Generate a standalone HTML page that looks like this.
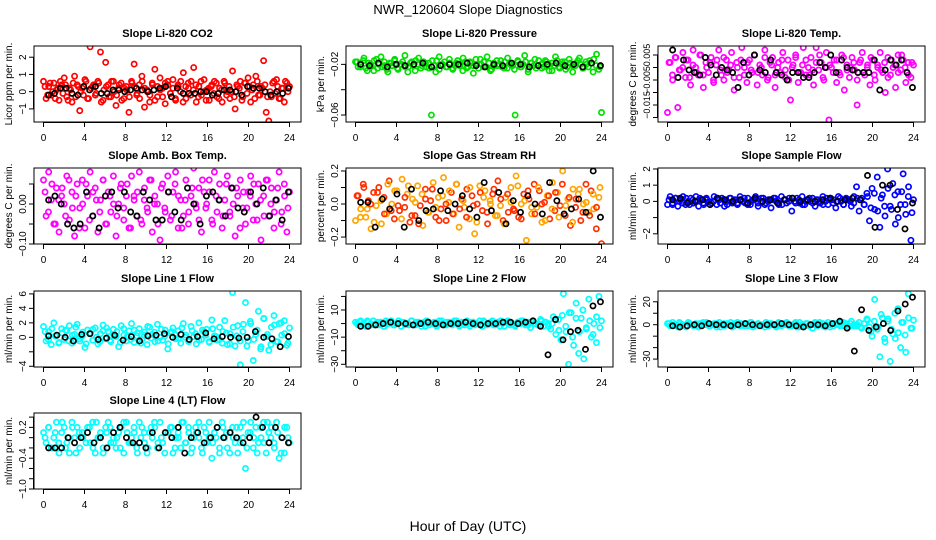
<!DOCTYPE html>
<html><head><meta charset="utf-8"><style>
html,body{margin:0;padding:0;background:#fff}
svg{display:block;font-family:"Liberation Sans",sans-serif}
</style></head><body>
<svg id="chart" width="936" height="540" viewBox="0 0 936 540">
<text x="468" y="14" text-anchor="middle" font-size="13">NWR_120604  Slope Diagnostics</text>
<text x="468" y="531" text-anchor="middle" font-size="14">Hour of Day (UTC)</text>
</svg>
<script>
const xTicks = [0,4,8,12,16,20,24];
const titles = ["Slope Li-820 CO2","Slope Li-820 Pressure","Slope Li-820 Temp.","Slope Amb. Box Temp.","Slope Gas Stream RH","Slope Sample Flow","Slope Line 1 Flow","Slope Line 2 Flow","Slope Line 3 Flow","Slope Line 4 (LT) Flow"];
const yTitles = ["Licor ppm per min.","kPa per min.","degrees C per min.","degrees C per min.","percent per min.","ml/min per min.","ml/min per min.","ml/min per min.","ml/min per min.","ml/min per min."];
const co2 = [0.6,-0.4,0.3,-0.2,0.5,0.1,-0.5,0.4,0.8,-0.3,0.2,-0.6,0.9,0.4,-1.1,0.2,0.7,-0.4,2.6,0.3,-0.2,0.6,2.3,-0.5,1.7,0.4,-0.3,0.6,-0.8,0.2,0.5,-0.4,0.3,-1.2,0.6,1.6,-0.2,0.4,0.9,-0.9,0.1,-0.6,0.5,1.3,-0.3,0.8,0.2,-0.7,0.4,-0.1,0.7,-0.5,0.3,0.6,1.1,-0.4,0.2,0.6,1.4,-0.6,0.3,-0.2,0.7,0.1,-0.5,0.4,0.6,-0.3,0.2,-0.6,0.5,0.0,-0.4,1.2,-1.0,0.3,0.6,-0.3,0.5,0.8,-0.6,0.4,0.9,-0.2,0.3,1.8,-1.2,-1.7,-0.3,0.6,0.7,-0.4,0.2,-0.6,0.5,0.3];
const co2b = [0.3,-0.2,0.5,0.0,-0.4,0.2,0.6,-0.1,0.4,-0.5,0.1,0.5,-0.3,0.3,0.0,-0.2,0.6,-0.4,0.2,0.4,-0.1,0.5,-0.6,0.1,0.3,-0.3,0.6,0.0,-0.2,0.4,-0.5,0.2,0.1,-0.3,0.5,0.3,-0.1,-0.4,0.6,0.2,0.0,-0.2,0.4,-0.5,0.3,0.1,-0.3,0.5,0.6,-0.1,0.2,-0.4,0.4,0.0,-0.6,0.3,0.5,-0.2,0.1,0.4,-0.3,0.6,0.0,-0.5,0.2,0.3,-0.1,0.5,-0.4,0.1,0.6,-0.2,0.3,0.0,-0.3,0.4,0.2,-0.5,0.5,-0.1,0.3,0.1,-0.4,0.6,-0.2,0.2,0.4,-0.3,0.0,0.5,-0.1,0.3,-0.4,0.2,0.6,0.0];
const co2Avg = [-0.2,-0.1,0.2,0.2,-0.1,-0.2,0.3,0.1,0.3,-0.1,-0.1,0.1,0.1,0.0,0.1,0.2,0.1,0.0,0.1,0.2,0.3,-0.3,0.2,-0.1,-0.1,-0.1,0.0,0.0,-0.2,-0.1,0.1,0.1,0.0,-0.2,0.3,0.2,0.2,0.0,-0.2,0.0,-0.1,0.2];
const pres = [-18,-22,-20,-17,-23,-19,-21,-25,-16,-20,-22,-18,-24,-19,-21,-17,-23,-20,-18,-22,-26,-19,-21,-17,-20,-23,-18,-22,-19,-60,-21,-17,-24,-20,-18,-22,-19,-23,-21,-17,-20,-25,-18,-22,-19,-21,-16,-23,-20,-18,-22,-19,-24,-21,-17,-20,-22,-18,-23,-19,-21,-60,-17,-22,-20,-18,-24,-19,-21,-23,-17,-20,-22,-18,-25,-19,-21,-17,-23,-20,-18,-22,-19,-26,-21,-17,-20,-23,-18,-22,-19,-16,-21,-24,-58];
const presb = [-18,-22,-15,-25,-20,-17,-23,-14,-21,-26,-19,-16,-24,-20,-13,-22,-18,-25,-15,-21,-19,-23,-17,-26,-14,-20,-22,-16,-24,-19,-21,-15,-23,-18,-27,-20,-16,-22,-14,-25,-19,-21,-17,-23,-15,-20,-24,-18,-22,-13,-26,-19,-16,-21,-23,-17,-20,-25,-14,-22,-18,-24,-16,-21,-19,-15,-23,-20,-17,-26,-12,-22];
const presAvg = [-20,-21,-19,-22,-20,-21,-20,-19,-22,-21,-20,-20,-19,-21,-22,-20,-21,-19,-20,-22,-21,-20,-19,-21,-20,-22,-19,-21];
const ltemp = [-18,2,-5,4,-16,-1,6,-4,3,-7,7,0,-3,5,-8,2,-2,4,-6,1,7,-3,-5,3,-1,6,-9,2,-4,8,0,-6,3,-2,5,-7,1,-3,7,-5,2,4,-8,0,-2,6,-4,3,-13,1,5,-6,-2,8,-3,0,4,-7,8,-1,2,-5,6,-21,0,3,-6,-2,5,-9,1,-4,4,-1,-15,2,6,-3,0,-7,3,-5,1,6,-2,-10,4,-3,0,-8,5,-1,3,-6,2,-4,1];
const ltempb = [2,-3,4,-1,0,3,-4,1,-2,5,-3,0,2,-5,3,-1,4,-2,1,-4,0,3,-3,2,-1,5,-2,0,4,-4,1,-3,2,3,-1,-5,0,4,-2,1,3,-3,-1,2,5,-4,0,1,-2,3,-3,4,-1,0,2,-5,3,-2,1,4,-3,0,-1,2,-4,3,1,-2,5,0,-3,2];
const ltempAvg = [7,-4,3,-1,-2,-3,4,1,-3,0,-1,-2,-8,2,-3,5,-1,-2,3,-2,-3,-5,-2,-2,-4,-4,-2,2,0,5,-2,3,0,-1,-2,-2,-2,3,-9,-1,3,1,3,-2,-8];
const amb = [6,-3,8,1,-5,4,-7,2,0,7,-4,3,-8,5,-1,6,-6,2,8,-3,4,-7,1,6,-5,3,-2,7,-8,0,5,-4,2,-6,7,1,-3,8,-5,4,-1,6,-7,2,0,-9,5,-2,7,-4,3,8,-6,1,-3,6,-5,2,9,-1,4,-7,3,0,6,-4,8,-2,5,-6,1,7,-3,4,-8,2,6,-1,-5,3,7,-4,0,5,-9,2,6,-3,4,-6,1,8,-2,5,-7,3];
const ambb = [3,-2,5,-5,1,4,-3,6,-1,2,-6,0,5,-4,3,1,-2,6,-5,2,0,-3,4,-1,5,-6,2,3,-4,1,-2,6,0,-5,4,-1,3,-3,5,2,-6,1,-2,4,0,-4,6,-1,3,-5,2,1,-3,5,-2,0,4,-6,3,-1,2,5,-4,1,-3,6,0,-2,4,-5,2,-1];
const ambAvg = [1,2,0,-5,-6,-5,3,-3,-6,2,3,-1,3,-2,-3,3,1,-4,-4,3,-2,-4,4,0,-5,2,3,1,-3,4,-1,-2,3,0,4,-3,1,-4,3];
const rh = [-10,5,-3,12,-8,2,-15,7,-1,10,-12,4,-6,14,0,-9,8,-4,15,-2,6,-11,3,-7,11,-1,-13,9,-5,2,13,-8,4,-3,16,-10,1,7,-6,12,-14,3,-2,9,-9,5,-18,0,11,-4,8,-12,2,6,-7,14,-1,-10,4,-5,10,-3,17,-8,0,6,-22,3,-6,12,-2,8,-11,1,5,-9,13,-4,7,-1,20,-7,3,-13,9,-2,6,-10,0,12,-5,8,-3,-15,4,-24];
const rhb = [5,-8,10,-3,0,-11,7,2,-6,12,-4,8,-1,-9,4,11,-7,1,-12,6,3,-5,9,-2,-10,5,0,8,-6,12,-3,2,-8,10,-1,-11,7,4,-5,0,9,-7,3,-12,6,1,-4,11,-9,2,8,-2,-6,10,0,-10,5,-3,7,-8,12,-1,4,-11,3,9,-5,1,-7,6,-2,10];
const rhAvg = [1,1,-14,3,-3,6,-14,9,-10,-4,-3,8,-4,0,5,-3,-8,13,-4,7,-12,2,-5,5,0,-6,13,2,-6,-3,3,-5,20,-8];
const sflow = [-0.2,0.3,-0.1,0.2,-0.3,0.1,0.3,-0.2,0.0,0.2,-0.1,0.3,-0.3,0.1,-0.2,0.2,0.0,-0.1,0.3,-0.2,0.1,0.2,-0.3,0.0,0.2,-0.1,0.1,-0.2,0.3,0.0,-0.1,0.2,-0.2,0.1,0.3,-0.3,0.0,0.2,-0.1,0.1,-0.4,0.2,0.0,-0.2,0.3,0.1,-0.1,0.2,-0.6,0.0,0.2,-0.1,0.3,-0.2,0.1,0.0,0.2,-0.3,0.1,-0.1,0.3,0.0,-0.2,0.2,0.1,-0.4,0.3,0.0,-0.2,0.2,0.1,-0.3,0.3,0.9,-0.6,0.2,-0.2,0.5,-1.2,0.8,-0.5,1.5,-1.6,0.4,-0.9,2.0,-0.3,1.1,-1.4,0.6,-0.2,1.7,-0.8,0.3,-2.4,0.1];
const sflowb = [0.1,-0.2,0.2,0.0,-0.1,0.2,-0.2,0.1,0.0,0.2,-0.1,0.1,-0.2,0.0,0.2,-0.1,0.1,-0.2,0.2,0.0,-0.1,0.1,0.2,-0.2,0.0,0.1,-0.1,0.2,-0.2,0.0,0.1,0.2,-0.1,-0.2,0.1,0.0,0.2,-0.1,0.1,-0.2,0.0,0.2,-0.1,0.1,0.0,-0.2,0.2,0.1,-0.1,0.0,0.2,-0.2,0.1,0.0,-0.1,0.2,0.1,-0.2,0.3,-0.4,0.5,-0.6,0.2,-0.3,0.8,-0.5,0.4,-1.0,0.6,-0.2,0.9,-0.7];
const sflowAvg = [0.1,0.2,-0.1,0.0,0.1,-0.2,0.2,0.1,0.0,0.1,-0.1,0.2,0.0,0.1,-0.1,0.1,0.2,0.0,0.1,0.0,0.1,0.2,0.0,0.1,0.2,0.1,1.6,-1.6,1.0,1.0,-0.5,-1.7,-0.1];
const l1 = [1.5,-0.5,0.8,-1.0,2.0,0.3,-0.7,1.2,-0.3,0.9,1.6,-0.8,0.4,1.8,-0.5,0.2,-1.4,1.0,0.6,-0.4,1.3,-0.9,0.5,1.7,-0.2,0.8,-0.6,1.1,0.1,-1.3,1.6,0.3,-0.5,0.9,1.9,-0.7,0.2,1.2,-0.3,0.7,-1.0,1.4,0.4,-0.6,1.8,0.0,-0.4,1.0,-1.6,0.6,1.3,-0.2,0.9,-0.8,1.9,0.3,-0.5,1.5,0.1,-0.9,2.0,-0.3,0.8,1.1,-0.6,2.4,0.2,-0.4,1.4,-0.8,2.3,-1.0,0.5,6.2,-1.2,1.6,-3.8,0.8,4.8,-0.5,1.9,-3.2,0.4,3.6,-1.3,2.6,0.1,-1.8,1.4,3.0,-0.6,1.9,0.3,2.3,-1.1,1.3];
const l1b = [0.8,-0.3,1.2,0.2,-0.8,0.6,1.0,-0.5,0.3,1.4,-0.2,0.7,-0.9,0.5,1.1,0.0,-0.6,0.9,1.3,-0.4,0.4,0.8,-0.7,1.2,0.1,-0.3,1.0,0.6,-0.8,0.3,1.5,-0.1,0.7,-0.5,1.1,0.2,-0.9,0.8,0.4,-0.2,1.3,0.0,-0.6,0.9,0.5,-0.4,1.0,0.3,-0.7,1.2,0.1,-0.3,0.8,0.6,-0.9,1.4,0.2,-0.5,1.8,-1.2,2.2,-0.3,1.0,-1.6,2.6,0.4,-1.0,1.7,-0.6,2.0,0.5,-0.8];
const l1Avg = [0.2,0.3,0.0,-0.5,0.4,0.5,-0.3,-0.1,0.3,-0.4,0.1,-0.5,0.2,0.3,0.5,0.0,0.4,-0.3,0.1,0.6,-0.2,0.1,0.0,-0.1,0.0,0.8,0.0,-0.2,-1.3,0.1];
const l2 = [1,-1,2,0,-2,1,-1,2,0,-1,1,-2,2,0,1,-1,0,2,-2,1,0,-1,2,-1,1,0,-2,1,2,-1,0,1,-2,0,2,-1,1,0,-1,2,0,-2,1,-1,2,0,1,-1,0,2,-2,1,-1,0,2,-1,1,-2,0,1,2,-1,0,-2,1,0,2,-1,1,-3,2,0,-1,3,-2,1,0,-4,5,-8,3,-12,22,-6,-30,8,-16,15,-22,4,-26,-3,18,-10,0,-14,20,2];
const l2b = [0,1,-1,2,0,-1,1,0,-2,1,2,-1,0,1,-1,0,2,-1,1,0,-2,1,0,-1,2,0,-1,1,0,2,-1,0,1,-2,1,0,-1,2,0,1,-1,0,2,-2,1,0,-1,1,2,0,-1,1,0,-1,2,1,-2,0,3,-5,6,-2,8,-10,4,-6,10,-4,2,-8,5,-3];
const l2Avg = [-2,-2,-1,0,1,0,0,-1,0,1,0,-1,0,0,1,0,-1,0,0,1,1,0,1,2,-2,-23,3,-12,-6,-5,-19,13,16];
const l3 = [1,-1,2,0,-2,1,0,-1,2,0,-1,1,-2,1,0,2,-1,0,1,-2,2,0,-1,1,0,-2,1,2,-1,0,1,-1,2,-2,0,1,-1,0,2,-1,1,0,-2,1,-1,0,2,0,-1,1,-2,2,0,-1,1,0,-3,2,-1,0,1,-2,2,0,-1,1,0,2,-1,1,-2,3,0,-1,2,-3,1,5,-2,-10,22,-4,-28,6,-15,3,-32,-8,-12,14,-20,2,-24,27,-3,4];
const l3b = [1,0,-1,2,0,-2,1,0,-1,1,2,0,-1,0,1,-2,1,0,2,-1,0,1,-1,0,2,-1,1,0,-2,1,0,-1,2,0,1,-1,0,2,-2,0,1,-1,0,1,2,-1,0,-2,1,0,-1,2,0,1,-1,0,-2,1,4,-6,3,-2,9,-12,5,-4,10,-7,2,-9,6,-3];
const l3Avg = [-1,-2,-1,0,-1,1,0,0,-1,0,1,0,-1,0,0,1,0,-1,-2,0,0,-1,1,3,-3,-23,13,-5,-2,1,-5,12,18,24];
const l4 = [0.1,-0.1,0.2,-0.2,0.0,0.3,-0.3,0.1,0.2,-0.1,-0.3,0.3,0.0,0.2,-0.2,0.1,-1.1,0.2,-0.1,0.3,-0.3,0.0,0.1,-0.2,0.2,0.3,-0.1,0.0,-0.2,0.1,0.2,-0.3,0.3,-0.1,0.0,0.1,-0.2,0.3,0.2,-0.1,-0.3,0.1,0.0,0.2,-0.2,0.3,-0.1,-1.1,0.1,0.2,-0.3,0.0,0.1,-0.2,0.3,-0.1,0.2,-0.3,0.0,0.1,0.3,-0.2,0.2,-0.1,0.0,-0.4,0.1,0.2,-0.3,0.3,0.0,-0.2,0.1,0.2,-0.1,-0.3,0.2,0.0,-0.6,0.1,0.3,-0.2,0.2,-0.1,0.0,0.3,-0.3,0.1,0.2,-0.1,0.3,-0.4,0.0,-0.3,0.2,-0.1];
const l4b = [0.0,0.2,-0.2,0.1,-0.1,0.3,-0.2,0.0,0.2,-0.3,0.1,0.0,-0.1,0.2,-0.2,0.3,0.0,-0.3,0.1,0.2,-0.1,0.0,-0.2,0.3,0.1,-0.1,0.2,-0.3,0.0,0.1,-0.2,0.2,0.3,-0.1,0.0,-0.3,0.1,0.2,-0.2,0.0,0.3,-0.1,0.1,-0.2,0.2,0.0,-0.3,0.1,0.3,-0.1,0.0,-0.2,0.2,0.1,-0.3,0.0,0.2,-0.1,0.3,-0.2,0.1,0.0,-0.3,0.2,-0.1,0.3,0.0,-0.2,0.1,-0.3,0.2,0.0];
const l4Avg = [-0.2,-0.2,-0.2,0.0,-0.1,0.0,0.1,-0.1,0.0,-0.2,0.1,0.2,0.0,-0.1,-0.1,-0.2,0.1,-0.2,0.1,0.0,0.2,-0.3,0.0,0.1,-0.1,0.0,0.2,0.0,0.1,0.0,-0.1,0.0,0.4,0.2,-0.1,0.2,0.0,-0.1];
const yTickVals = [[-1,0,1,2],[-60,-40,-20],[-20,-15,-10,-5,0,5],[-10,-5,0,5],[-20,-10,0,10,20],[-2,-1,0,1,2],[-4,-2,0,2,4,6],[-30,-20,-10,0,10,20],[-30,-20,-10,0,10,20],[-1.0,-0.8,-0.6,-0.4,-0.2,0,0.2,0.4]];
const yTickLabels = [["−1","0","1","2"],["−0.06","","−0.02"],["","−0.015","","−0.005","","0.005"],["−0.10","","0.00",""],["−0.2","","0.0","","0.2"],["−2","","0","1","2"],["−4","","0","2","4","6"],["−30","","−10","","10",""],["−30","","","0","","20"],["−1.0","","","−0.4","","","0.2",""]];

const series = [co2,pres,ltemp,amb,rh,sflow,l1,l2,l3,l4];
const series2 = [co2b,presb,ltempb,ambb,rhb,sflowb,l1b,l2b,l3b,l4b];
const avgs = [co2Avg,presAvg,ltempAvg,ambAvg,rhAvg,sflowAvg,l1Avg,l2Avg,l3Avg,l4Avg];
const domains = [[-1.76,2.65],[-65.5,-5.5],[-21.8,8.6],[-10,9],[-24.2,21.8],[-2.63,2.06],[-4.1,6.4],[-32,24],[-36.9,29.4],[-1.0,0.48]];
const colors = ["#ff0000","#00e000","#ff00ff","#ff00ff","#ffa500","#0000ff","#00ffff","#00ffff","#00ffff","#00ffff"];
const rowTops = [46,168,291,413];

const NS = "http://www.w3.org/2000/svg";
const svg = document.getElementById('chart');
function mk(tag, attrs, parent){const e=document.createElementNS(NS,tag);for(const k in attrs)e.setAttribute(k,attrs[k]);(parent||svg).appendChild(e);return e;}

for (let p=0;p<10;p++){
  const col=p%3,row=Math.floor(p/3);
  const L=34+col*312, R=L+267, T=rowTops[row], B=T+76;
  const x0=L+9.5, x1=R-11.5;
  const xs=h=>x0+(x1-x0)*h/24;
  const [dmin,dmax]=domains[p];
  const ys=v=>B-(v-dmin)/(dmax-dmin)*(B-T);
  const g=mk('g',{});
  
  
  const t=mk('text',{x:(L+R)/2,y:T-9,'text-anchor':'middle','font-size':11,'font-weight':'bold'},g);
  t.textContent=titles[p];
  
  
  const clip=mk('clipPath',{id:'c'+p},g);
  mk('rect',{x:L,y:T,width:R-L,height:B-T},clip);
  const pts=mk('g',{'clip-path':'url(#c'+p+')'},g);
  const vals=series[p];
  vals.forEach((v,i)=>{
    const c=mk('circle',{cx:xs(i*24/(vals.length-1)),cy:ys(v),r:2.6,fill:'none',stroke:(p===4&&i%2)?'#ff3000':colors[p],'stroke-width':1.7},pts);
    
    
  });
  const vals2=series2[p];
  vals2.forEach((v,i)=>{
    const c=mk('circle',{cx:xs(0.15+i*23.7/(vals2.length-1)),cy:ys(v),r:2.6,fill:'none',stroke:(p===4&&i%2===0)?'#ff3000':colors[p],'stroke-width':1.7},pts);
    
    
  });
  const av=avgs[p];
  av.forEach((v,i)=>{
    const c=mk('circle',{cx:xs(0.5+i*23.4/(av.length-1)),cy:ys(v),r:2.6,fill:'none',stroke:'#000','stroke-width':1.7},pts);
    
    
  });
  const box=mk('rect',{x:L,y:T,width:R-L,height:B-T,fill:'none',stroke:'#000','stroke-width':1},g);
  
  
  mk('line',{x1:xs(0),x2:xs(24),y1:B+0.5,y2:B+0.5,stroke:'#000'},g);
  xTicks.forEach(h=>{
    mk('line',{x1:xs(h),x2:xs(h),y1:B,y2:B+5,stroke:'#000'},g);
    const tl=mk('text',{x:xs(h),y:B+19,'text-anchor':'middle','font-size':10},g);
    tl.textContent=h;
    
    
  });
  const tv=yTickVals[p];
  mk('line',{x1:L-0.5,x2:L-0.5,y1:ys(tv[0]),y2:ys(tv[tv.length-1]),stroke:'#000'},g);
  tv.forEach((v,i)=>{
    mk('line',{x1:L-5,x2:L,y1:ys(v),y2:ys(v),stroke:'#000'},g);
    const lab=yTickLabels[p][i];
    if(lab){
      const yl=mk('text',{x:0,y:0,'text-anchor':'middle','font-size':(p===2?9:10),transform:`translate(${L-8},${ys(v)}) rotate(-90)`},g);
      yl.textContent=lab;
      
      
    }
  });
  const yt=mk('text',{x:0,y:0,'text-anchor':'middle','font-size':10,transform:`translate(${L-22},${(T+B)/2}) rotate(-90)`},g);
  yt.textContent=yTitles[p];
  
  
}
</script>
</body></html>
